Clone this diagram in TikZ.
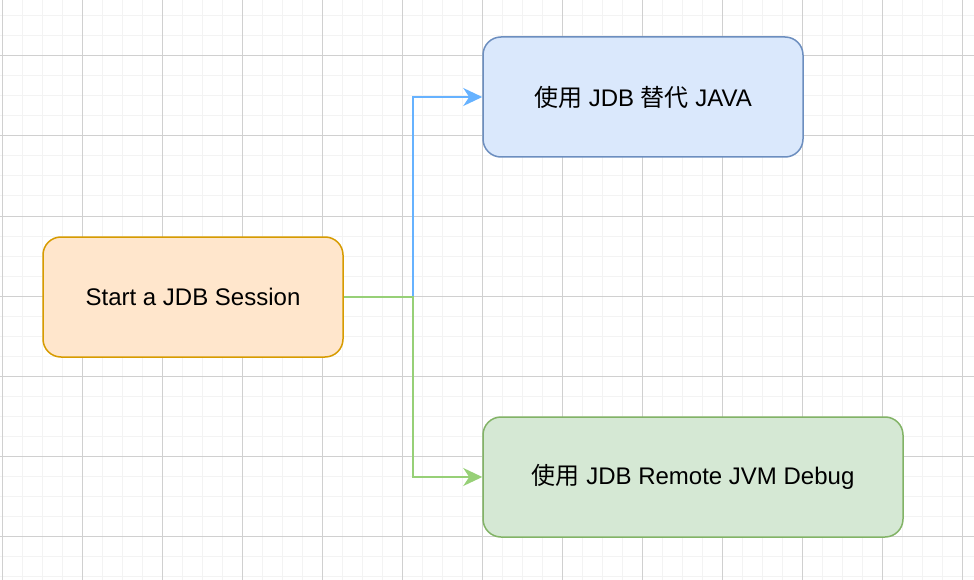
\documentclass[tikz,border=0pt]{standalone}
\usepackage{fontspec}
\setmainfont{Liberation Sans}
\newfontfamily\cjk{Noto Sans CJK SC}
\usetikzlibrary{arrows.meta}
\definecolor{minorgrid}{HTML}{F3F3F3}
\definecolor{majorgrid}{HTML}{D0D0D0}
\definecolor{orfill}{HTML}{FFE6CC}
\definecolor{ordraw}{HTML}{D79B00}
\definecolor{blfill}{HTML}{DAE8FC}
\definecolor{bldraw}{HTML}{6C8EBF}
\definecolor{grfill}{HTML}{D5E8D4}
\definecolor{grdraw}{HTML}{82B366}
\definecolor{bledge}{HTML}{66B2FF}
\definecolor{gredge}{HTML}{97D077}
\tikzset{
  box/.style={rectangle, rounded corners=18pt, line width=1.5pt, minimum height=120pt,
    inner sep=0pt, font=\fontsize{24}{28}\selectfont, text=black},
  edgeline/.style={line width=1.5pt, -{Stealth[length=19pt,width=18pt,inset=6pt]}},
}
\begin{document}
\begin{tikzpicture}[x=1pt,y=-1pt]
\useasboundingbox (0,0) rectangle (974,580);
\fill[white] (0,0) rectangle (974,580);
% minor grid
\foreach \x in {2,22,...,974} \draw[minorgrid, line width=1pt] (\x,0) -- (\x,580);
\foreach \y in {16,36,...,580} \draw[minorgrid, line width=1pt] (0,\y) -- (974,\y);
% major grid
\foreach \x in {2,82,...,974} \draw[majorgrid, line width=1pt] (\x,0) -- (\x,580);
\foreach \y in {56,136,...,580} \draw[majorgrid, line width=1pt] (0,\y) -- (974,\y);

\node[box, draw=ordraw, fill=orfill, minimum width=300pt] (start) at (193,297) {Start a JDB Session};
\node[box, draw=bldraw, fill=blfill, minimum width=320pt] (javaalt) at (643,97) {{\cjk 使用} JDB {\cjk 替代} JAVA};
\node[box, draw=grdraw, fill=grfill, minimum width=420pt] (remote) at (693,477) {{\cjk 使用} JDB Remote JVM Debug};

\coordinate (split) at (413,297);
\draw[edgeline, draw=bledge] (start.east) -- (split) |- (javaalt.west);
\draw[edgeline, draw=gredge] (start.east) -- (split) |- (remote.west);
\end{tikzpicture}
\end{document}
